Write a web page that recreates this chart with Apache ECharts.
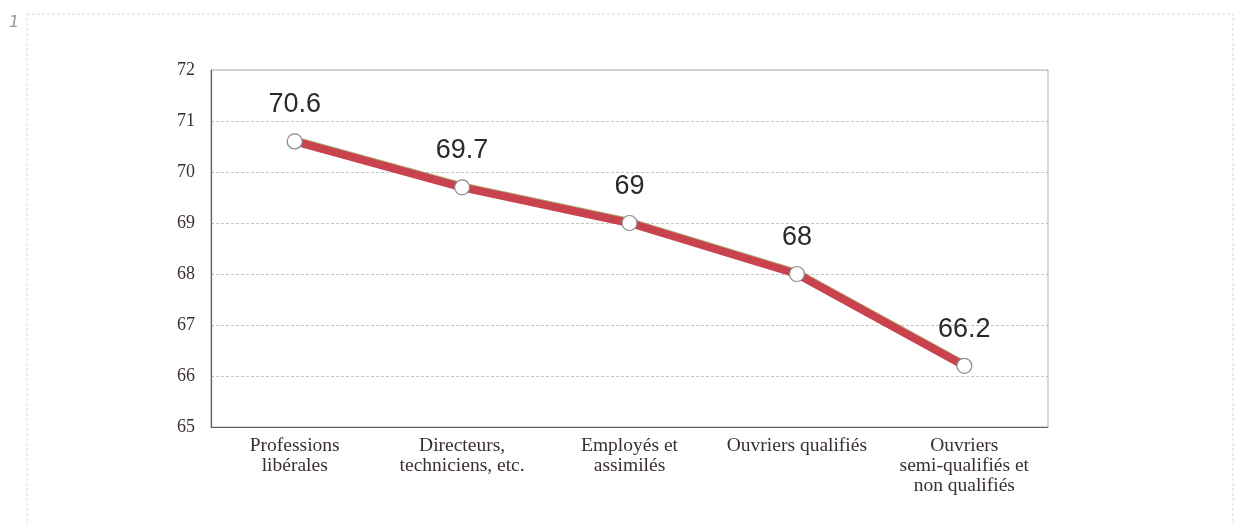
<!DOCTYPE html>
<html>
<head>
<meta charset="utf-8">
<script src="https://cdn.jsdelivr.net/npm/echarts@6/dist/echarts.min.js"></script>
<style>
html,body{margin:0;padding:0;background:#fff;}
#c{width:1237px;height:524px;}
</style>
</head>
<body>
<div id="c"></div>
<script>
var categories = ["Professions\nlibérales", "Directeurs,\ntechniciens, etc.", "Employés et\nassimilés", "Ouvriers qualifiés", "Ouvriers\nsemi-qualifiés et\nnon qualifiés"];
var values = [70.6, 69.7, 69, 68, 66.2];
var yTicks = [65, 66, 67, 68, 69, 70, 71, 72];

var chart = echarts.init(document.getElementById('c'), null, {renderer: 'canvas'});
chart.setOption({
  backgroundColor: '#ffffff',
  animation: false,
  graphic: [
    {type: 'rect', shape: {x: 27, y: 14, width: 1206, height: 530}, style: {fill: 'none', stroke: '#e2d8c4', lineWidth: 1, lineDash: [3, 2]}, z: 0},
    {type: 'text', left: 9, top: 15, style: {text: '1', fontSize: 16, fontStyle: 'italic', fontFamily: 'DejaVu Sans', fill: '#999'}}
  ],
  grid: {left: 211, right: 189, top: 70, bottom: 97, show: true, borderColor: '#b0b0b0', borderWidth: 1, backgroundColor: 'transparent'},
  xAxis: {
    type: 'category',
    data: categories,
    boundaryGap: true,
    axisLine: {show: true, lineStyle: {color: '#6e5e55', width: 1.2}},
    axisTick: {show: false},
    axisLabel: {interval: 0, margin: 9, fontFamily: 'Liberation Serif', fontSize: 19.5, lineHeight: 20, color: '#3a3030'}
  },
  yAxis: {
    type: 'value',
    min: yTicks[0],
    max: yTicks[yTicks.length - 1],
    interval: 1,
    axisLine: {show: true, lineStyle: {color: '#6e5e55', width: 1.2}},
    axisTick: {show: false},
    axisLabel: {margin: 16, fontFamily: 'Liberation Serif', fontSize: 18, color: '#3a3030'},
    splitLine: {show: true, lineStyle: {color: '#c4c4c4', type: [3, 2], width: 1}}
  },
  series: [{
    type: 'line',
    data: values,
    symbol: 'circle',
    symbolSize: 15,
    lineStyle: {color: '#c9434f', width: 8, shadowColor: 'rgba(120,110,20,0.6)', shadowOffsetY: -1, shadowOffsetX: 0, shadowBlur: 0},
    itemStyle: {color: '#ffffff', borderColor: '#8a8a8a', borderWidth: 1.2},
    label: {show: true, position: 'top', distance: 15, fontFamily: 'Liberation Sans', fontSize: 27, color: '#2a2a2a'},
    z: 5
  }]
});
</script>
</body>
</html>
